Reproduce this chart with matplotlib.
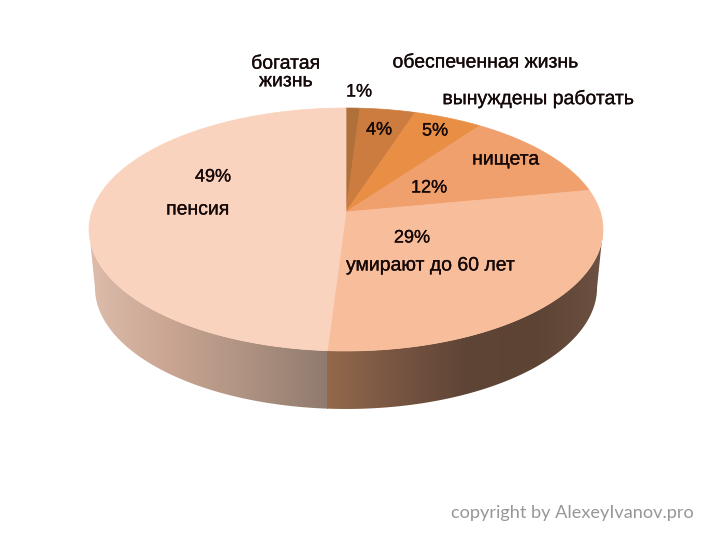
import numpy as np
import matplotlib
matplotlib.use('Agg')
import matplotlib.pyplot as plt
import matplotlib.patheffects as pe
from matplotlib.colors import LinearSegmentedColormap
from matplotlib.patches import Polygon

# clockwise from 12 o'clock
values = [1, 4, 5, 12, 29, 49]
percent_labels = ['1%', '4%', '5%', '12%', '29%', '49%']
names = ['богатая\nжизнь', 'обеспеченная жизнь', 'вынуждены работать',
         'нищета', 'умирают до 60 лет', 'пенсия']
colors = ['#B0703A', '#CC7C3E', '#E98F45', '#F0A06C', '#F8BD9A', '#FAD3BE']

percent_pos = [(359, 92), (379, 130), (435, 131), (429, 188), (412, 238), (213, 177)]
name_pos = [(286, 73), (486, 63), (539, 99), (506, 160), (431, 266), (198, 210)]

# projection of the pie disc, apex sits above the middle of the ellipse
CX, APEX_Y, DEPTH = 346, 212, 58
C, B, D = 0.144, -88.44, 254.3


def rim(turns, depth=0.0):
    """Screen points of the disc rim, turns clockwise from the top."""
    a = 2 * np.pi * np.asarray(turns)
    u, v = np.sin(a), np.cos(a)
    w = 1 + C * v
    shrink = 1 - 0.023 * depth / DEPTH
    return np.column_stack([CX + shrink * D * u / w, (APEX_Y + B * v) / w + depth])


fig = plt.figure(figsize=(7.2, 5.4), dpi=100)
ax = fig.add_axes([0, 0, 1, 1])

# side wall, shaded across x
side_start = np.arccos(-C) / (2 * np.pi)
t = np.linspace(side_start, 1 - side_start, 300)
outline = np.vstack([rim(t), rim(t[::-1], DEPTH)])

left_cmap = LinearSegmentedColormap.from_list('l', ['#DDBCAB', '#C9A592', '#AE9281', '#8F7A6E'])
right_cmap = LinearSegmentedColormap.from_list('r', ['#94694B', '#775542', '#5F4536', '#5C4334', '#6D5142'])
split_x = rim([0.51])[0, 0]
for cmap, x0, x1 in [(left_cmap, 90, split_x), (right_cmap, split_x, 603)]:
    im = ax.imshow(np.linspace(0, 1, 256)[None, :], cmap=cmap, aspect='auto',
                   extent=(x0, x1, 420, 200), zorder=1)
    clip = Polygon(outline, closed=True, transform=ax.transData)
    im.set_clip_path(clip)

# top face
start = 0.0
for val, col in zip(values, colors):
    end = start + val / 100
    arc = rim(np.linspace(start, end, max(val * 4, 8)))
    ax.add_patch(Polygon(np.vstack([[CX, APEX_Y], arc]), closed=True, facecolor=col,
                         edgecolor=col, linewidth=0.5, zorder=2))
    start = end

font = {'family': 'Liberation Sans', 'color': '#140808', 'ha': 'center', 'va': 'center', 'zorder': 3,
        'path_effects': [pe.withStroke(linewidth=0.2, foreground='#140808')]}
for (x, y), txt in zip(percent_pos, percent_labels):
    ax.text(x, y, txt, fontsize=13, **font)
for (x, y), txt in zip(name_pos, names):
    ax.text(x, y, txt, fontsize=14, linespacing=1.05, **font)

ax.text(572.5, 513, 'copyright by AlexeyIvanov.pro', fontsize=13.1, family='Lato',
        color='#979797', ha='center', va='center')

ax.set_xlim(0, 720)
ax.set_ylim(540, 0)
ax.axis('off')
fig.savefig('out.png', dpi=100)
